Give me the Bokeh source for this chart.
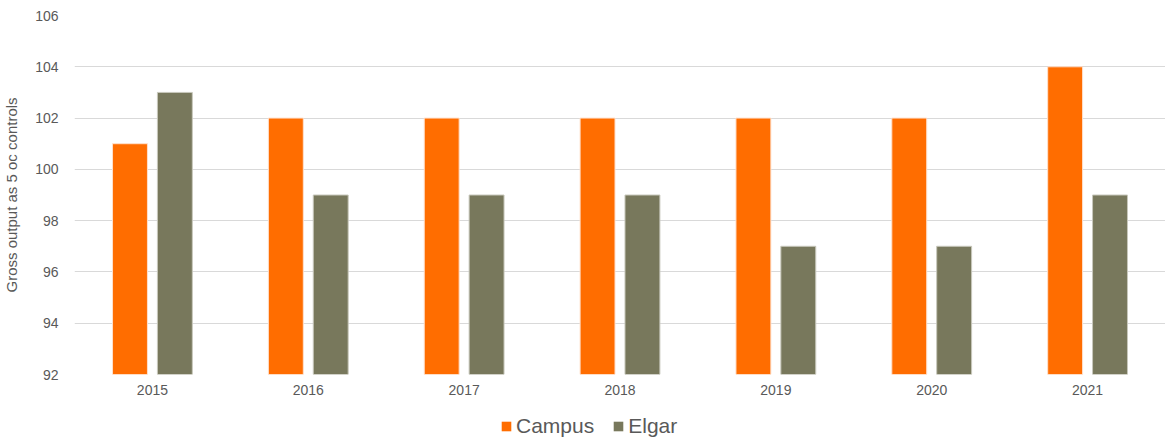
from bokeh.plotting import figure
from bokeh.layouts import column
from bokeh.models import ColumnDataSource, Legend, LegendItem, FactorRange, Range1d
from bokeh.transform import dodge
from bokeh.embed import file_html
from bokeh.resources import INLINE

years = ["2015", "2016", "2017", "2018", "2019", "2020", "2021"]
campus = [101, 102, 102, 102, 102, 102, 104]
elgar = [103, 99, 99, 99, 97, 97, 99]
y_ticks = [92, 94, 96, 98, 100, 102, 104, 106]
y_label = "Gross output as 5 oc controls"
series_names = ["Campus", "Elgar"]
series_colors = ["#FF6D00", "#78785C"]

src = ColumnDataSource(data=dict(years=years, campus=campus, elgar=elgar))

p = figure(x_range=FactorRange(*years, range_padding=0), y_range=(92, 106),
           width=1165, height=404, output_backend="svg", toolbar_location=None,
           min_border_left=71, min_border_right=0, min_border_top=15, min_border_bottom=30)
p.outline_line_color = None

r1 = p.vbar(x=dodge("years", -0.144, range=p.x_range), top="campus", bottom=92, width=0.224,
            source=src, fill_color=series_colors[0], line_color="#FFE0CC", line_width=1)
r2 = p.vbar(x=dodge("years", 0.144, range=p.x_range), top="elgar", bottom=92, width=0.224,
            source=src, fill_color=series_colors[1], line_color="#C8C8BC", line_width=1)

p.yaxis.ticker = y_ticks
p.yaxis.axis_label = y_label
p.yaxis.axis_label_text_font = "Liberation Sans"
p.yaxis.axis_label_text_font_style = "normal"
p.yaxis.axis_label_text_font_size = "15px"
p.yaxis.axis_label_text_color = "#595959"
p.yaxis.axis_label_standoff = 12
for ax in (p.xaxis, p.yaxis):
    ax.major_label_text_font = "Liberation Sans"
    ax.major_label_text_font_size = "14px"
    ax.major_label_text_color = "#595959"
    ax.axis_line_color = None
    ax.major_tick_line_color = None
    ax.minor_tick_line_color = None
p.yaxis.major_label_standoff = 10
p.xaxis.major_label_standoff = 4
p.xgrid.grid_line_color = None
p.ygrid.grid_line_color = "#D9D9D9"
p.ygrid.grid_line_width = 1

# legend strip below the chart (zero-size proxy glyphs carry the legend swatches)
lg = figure(width=1165, height=37, output_backend="svg", toolbar_location=None,
            x_range=Range1d(0, 1), y_range=Range1d(0, 1),
            x_axis_type=None, y_axis_type=None,
            min_border_left=0, min_border_right=0, min_border_top=0, min_border_bottom=0)
lg.outline_line_color = None
lg.xgrid.grid_line_color = None
lg.ygrid.grid_line_color = None
d1 = lg.vbar(x=[0], top=[0], bottom=[0], width=0, fill_color=series_colors[0], line_color=None)
d2 = lg.vbar(x=[0], top=[0], bottom=[0], width=0, fill_color=series_colors[1], line_color=None)
legend = Legend(items=[LegendItem(label=series_names[0], renderers=[d1]),
                       LegendItem(label=series_names[1], renderers=[d2])],
                orientation="horizontal", location=(426, 3))
legend.label_text_font = "Liberation Sans"
legend.label_text_font_size = "21px"
legend.label_text_color = "#595959"
legend.glyph_width = 12
legend.glyph_height = 12
legend.spacing = 18
legend.label_standoff = 4
legend.border_line_color = None
legend.background_fill_alpha = 0
legend.padding = 0
legend.margin = 0
lg.add_layout(legend, "center")

layout = column(p, lg, spacing=0)
open("out.html", "w").write(file_html(layout, INLINE))
